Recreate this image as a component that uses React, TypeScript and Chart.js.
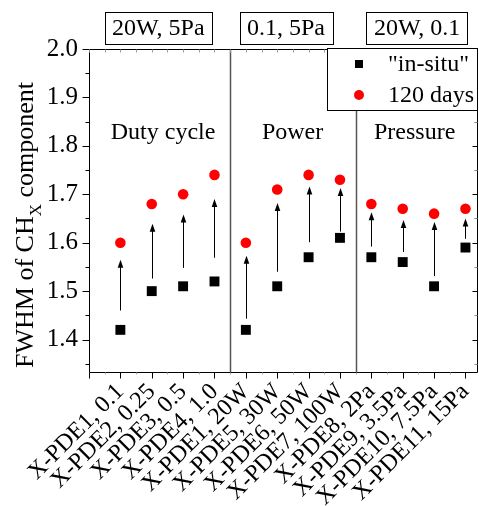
import React, { useEffect, useRef } from "react";
import { Chart, registerables } from "chart.js";

Chart.register(...registerables);

const categories = [
  "X-PDE1, 0.1",
  "X-PDE2, 0.25",
  "X-PDE3, 0.5",
  "X-PDE4, 1.0",
  "X-PDE1, 20W",
  "X-PDE5, 30W",
  "X-PDE6, 50W",
  "X-PDE7, 100W",
  "X-PDE8, 2Pa",
  "X-PDE9, 3.5Pa",
  "X-PDE10, 7.5Pa",
  "X-PDE11, 15Pa",
];
const inSitu = [1.42, 1.5, 1.51, 1.52, 1.42, 1.51, 1.57, 1.61, 1.57, 1.56, 1.51, 1.59];
const days120 = [1.6, 1.68, 1.7, 1.74, 1.6, 1.71, 1.74, 1.73, 1.68, 1.67, 1.66, 1.67];
const arrowFrom = [1.46, 1.526, 1.548, 1.569, 1.443, 1.54, 1.601, 1.623, 1.592, 1.581, 1.531, 1.608];
const arrowTo = [1.565, 1.639, 1.658, 1.69, 1.573, 1.682, 1.716, 1.713, 1.663, 1.647, 1.643, 1.65];
const groupLabels = ["Duty cycle", "Power", "Pressure"];
const groupLabelX = [2.36, 6.49, 10.38];
const groupConditions = ["20W, 5Pa", "0.1, 5Pa", "20W, 0.1"];
const groupConditionX = [2.21, 6.28, 10.46];
const groupBoundaries = [4.5, 8.5];
const seriesNames = ['"in-situ"', "120 days"];
const yTicks = [1.4, 1.5, 1.6, 1.7, 1.8, 1.9, 2.0];

const SERIF = "'Liberation Serif', 'Times New Roman', serif";

const decorPlugin = {
  id: "decor",
  beforeDatasetsDraw(chart: any) {
    const { ctx, chartArea: ca, scales } = chart;
    const xs = scales.x;
    const ys = scales.y;
    ctx.save();
    // group dividers
    ctx.strokeStyle = "#555";
    ctx.lineWidth = 1.5;
    groupBoundaries.forEach((b) => {
      const px = Math.round(xs.getPixelForValue(b)) + 0.5;
      ctx.beginPath();
      ctx.moveTo(px, ca.top);
      ctx.lineTo(px, ca.bottom);
      ctx.stroke();
    });
    // arrows
    ctx.strokeStyle = "#000";
    ctx.fillStyle = "#000";
    ctx.lineWidth = 1;
    for (let i = 0; i < categories.length; i++) {
      const px = Math.round(xs.getPixelForValue(i + 1)) + 0.5;
      const y0 = ys.getPixelForValue(arrowFrom[i]);
      const y1 = ys.getPixelForValue(arrowTo[i]);
      ctx.beginPath();
      ctx.moveTo(px, y0);
      ctx.lineTo(px, y1 + 6);
      ctx.stroke();
      ctx.beginPath();
      ctx.moveTo(px, y1);
      ctx.lineTo(px - 2.8, y1 + 8);
      ctx.lineTo(px + 2.8, y1 + 8);
      ctx.closePath();
      ctx.fill();
    }
    // axes frame
    const L = ca.left + 0.5;
    const R = ca.right - 0.5;
    const T = Math.round(ca.top) + 0.5;
    const B = Math.round(ca.bottom) + 0.5;
    ctx.strokeStyle = "#000";
    ctx.lineWidth = 1;
    ctx.beginPath();
    ctx.moveTo(L, T);
    ctx.lineTo(L, B);
    ctx.lineTo(R, B);
    ctx.lineTo(R, T);
    ctx.lineTo(L, T);
    ctx.stroke();
    // y ticks
    for (let v = 1.35; v <= 2.0001; v += 0.05) {
      const major = Math.abs(v * 10 - Math.round(v * 10)) < 0.01;
      const py = Math.round(ys.getPixelForValue(v)) + 0.5;
      if (py < ca.top - 1 || py > ca.bottom + 1) continue;
      ctx.strokeStyle = "#000";
      ctx.beginPath();
      ctx.moveTo(L, py);
      ctx.lineTo(L - (major ? 7 : 4), py);
      ctx.stroke();
      ctx.strokeStyle = major ? "#000" : "#888";
      ctx.beginPath();
      ctx.moveTo(R, py);
      ctx.lineTo(R - (major ? 5 : 3), py);
      ctx.stroke();
    }
    // x ticks
    for (let k = 0; k <= 24; k++) {
      const v = k / 2;
      const major = k % 2 === 0;
      const px = Math.round(xs.getPixelForValue(v)) + 0.5;
      if (px > ca.right) continue;
      ctx.strokeStyle = major ? "#000" : "#aaa";
      ctx.beginPath();
      ctx.moveTo(px, B);
      ctx.lineTo(px, B + (major ? 6 : 2));
      ctx.stroke();
      ctx.strokeStyle = "#999";
      ctx.beginPath();
      ctx.moveTo(px, T);
      ctx.lineTo(px, T + 3);
      ctx.stroke();
    }
    ctx.restore();
  },
  afterDraw(chart: any) {
    const { ctx, chartArea: ca, scales } = chart;
    const xs = scales.x;
    const ys = scales.y;
    ctx.save();
    ctx.fillStyle = "#000";
    ctx.strokeStyle = "#000";
    ctx.lineWidth = 1;
    ctx.font = `24px ${SERIF}`;
    // rotated category labels
    categories.forEach((t, i) => {
      const px = xs.getPixelForValue(i + 1);
      ctx.save();
      ctx.translate(px, ca.bottom + 16);
      ctx.rotate(-Math.PI / 4);
      ctx.textAlign = "right";
      ctx.textBaseline = "middle";
      ctx.fillText(t, 0, 0);
      ctx.restore();
    });
    // group labels
    ctx.textAlign = "center";
    ctx.textBaseline = "middle";
    groupLabels.forEach((t, i) => {
      ctx.fillText(t, xs.getPixelForValue(groupLabelX[i]), ys.getPixelForValue(1.827));
    });
    // condition boxes
    groupConditions.forEach((t, i) => {
      const cx = xs.getPixelForValue(groupConditionX[i]);
      const w = ctx.measureText(t).width + 15;
      const x0 = Math.round(cx - w / 2) + 0.5;
      ctx.fillStyle = "#fff";
      ctx.fillRect(x0, 12.5, Math.round(w), 32);
      ctx.strokeRect(x0, 12.5, Math.round(w), 32);
      ctx.fillStyle = "#000";
      ctx.fillText(t, cx, 29);
    });
    // legend
    const lx = 327.5, ly = 48.5, lw = 150, lh = 62;
    ctx.fillStyle = "#fff";
    ctx.fillRect(lx, ly, lw, lh);
    ctx.strokeRect(lx, ly, lw, lh);
    ctx.fillStyle = "#000";
    ctx.fillRect(355, 60, 8, 8);
    ctx.fillStyle = "#ff0000";
    ctx.beginPath();
    ctx.arc(359, 95, 5, 0, Math.PI * 2);
    ctx.fill();
    ctx.fillStyle = "#000";
    ctx.textAlign = "left";
    ctx.fillText(seriesNames[0], 388, 65);
    ctx.fillText(seriesNames[1], 388, 96);
    // y title with subscript
    ctx.translate(33, 368);
    ctx.rotate(-Math.PI / 2);
    ctx.textBaseline = "alphabetic";
    ctx.font = `26px ${SERIF}`;
    const p1 = "FWHM of CH";
    ctx.fillText(p1, 0, 0);
    const w1 = ctx.measureText(p1).width;
    ctx.font = `17px ${SERIF}`;
    ctx.fillText("X", w1, 8);
    const w2 = ctx.measureText("X").width;
    ctx.font = `26px ${SERIF}`;
    ctx.fillText(" component", w1 + w2, 0);
    ctx.restore();
  },
};

export default function App() {
  const ref = useRef<HTMLCanvasElement | null>(null);
  useEffect(() => {
    if (!ref.current) return;
    const chart = new Chart(ref.current, {
      type: "scatter",
      data: {
        datasets: [
          {
            label: seriesNames[0],
            data: inSitu.map((v, i) => ({ x: i + 1, y: v })),
            pointStyle: "rect",
            pointRadius: 7,
            backgroundColor: "#000",
            borderColor: "#000",
            borderWidth: 0,
          },
          {
            label: seriesNames[1],
            data: days120.map((v, i) => ({ x: i + 1, y: v })),
            pointStyle: "circle",
            pointRadius: 5.3,
            backgroundColor: "#ff0000",
            borderColor: "#ff0000",
            borderWidth: 0,
          },
        ],
      },
      options: {
        responsive: false,
        animation: false,
        layout: { padding: { top: 49, left: 0, right: 6, bottom: 0 } },
        plugins: { legend: { display: false }, tooltip: { enabled: false } },
        scales: {
          x: {
            type: "linear",
            min: 0,
            max: 12.4,
            grid: { display: false, drawTicks: false },
            border: { display: false },
            afterFit: (s: any) => {
              s.height = 134;
            },
            ticks: {
              display: false,
              stepSize: 1,
              includeBounds: false,
              callback: (v: any) => {
                const n = Number(v);
                return Number.isInteger(n) && n >= 1 && n <= categories.length ? categories[n - 1] : "";
              },
            },
          },
          y: {
            type: "linear",
            min: 1.333,
            max: 2.0,
            grid: { display: false, drawTicks: false },
            border: { display: false },
            afterFit: (s: any) => {
              s.width = 89;
            },
            afterBuildTicks: (s: any) => {
              s.ticks = yTicks.map((v) => ({ value: v }));
            },
            ticks: {
              padding: 11,
              color: "#000",
              font: { family: SERIF, size: 25 },
              callback: (v: any) => Number(v).toFixed(1),
            },
          },
        },
      },
      plugins: [decorPlugin],
    });
    return () => chart.destroy();
  }, []);
  return (
    <div style={{ position: "absolute", left: 0, top: 0, width: 479, height: 506, overflow: "hidden", background: "#fff" }}>
      <canvas ref={ref} width={485} height={506} style={{ width: 485, height: 506, display: "block" }} />
    </div>
  );
}
